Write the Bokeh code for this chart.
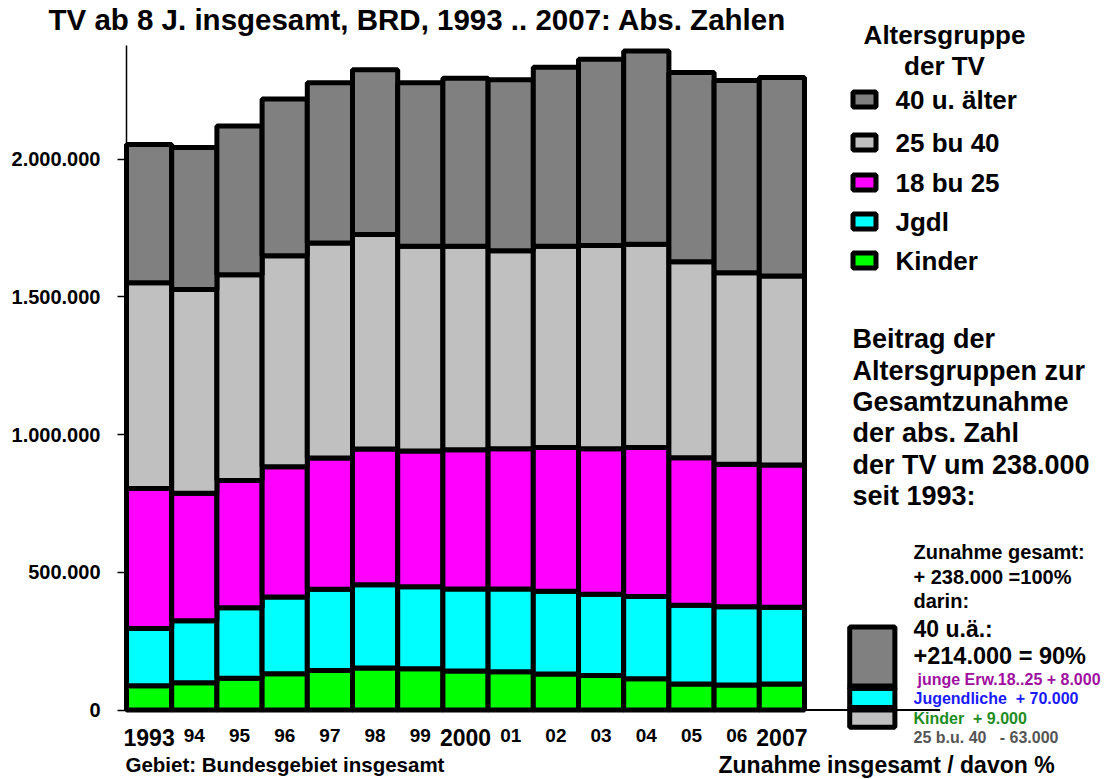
from bokeh.plotting import figure
from bokeh.models import Label, FixedTicker, ColumnDataSource, LinearAxis
from bokeh.embed import file_html
from bokeh.resources import INLINE

# ---------------- data ----------------
years = ["1993", "94", "95", "96", "97", "98", "99", "2000",
         "01", "02", "03", "04", "05", "06", "2007"]
big_years = ["1993", "2000", "2007"]

kinder   = [88000, 99000, 115000, 132000, 143000, 152000, 150000, 142000,
            139000, 131000, 125000, 113000, 94000, 91000, 94000]
jgdl     = [208000, 225000, 256000, 278000, 295000, 303000, 297000, 297000,
            300000, 300000, 295000, 299000, 286000, 284000, 279000]
erw18_25 = [508000, 463000, 462000, 473000, 477000, 492000, 493000, 506000,
            509000, 522000, 528000, 541000, 536000, 517000, 516000]
a25_40   = [747000, 739000, 747000, 766000, 780000, 779000, 743000, 738000,
            719000, 730000, 738000, 738000, 711000, 695000, 686000]
a40plus  = [502000, 516000, 540000, 569000, 582000, 598000, 594000, 610000,
            621000, 650000, 676000, 701000, 687000, 698000, 721000]

# Zunahme 1993..2007 (Beitrag der Altersgruppen)
zun_kinder = 9000
zun_jgdl = 70000
zun_erw = 8000
zun_40 = 214000
zun_25_40 = -63000

stack_names = ["kinder", "jgdl", "erw18_25", "a25_40", "a40plus"]
colors = ["#00ff00", "#00ffff", "#ff00ff", "#c0c0c0", "#808080"]
legend_labels = ["40 u. älter", "25 bu 40", "18 bu 25", "Jgdl", "Kinder"]
legend_colors = ["#808080", "#c0c0c0", "#ff00ff", "#00ffff", "#00ff00"]

y_ticks = [0, 500000, 1000000, 1500000, 2000000]
y_tick_labels = ["0", "500.000", "1.000.000", "1.500.000", "2.000.000"]

# ---------------- layout helpers (picture pixels -> data) ----------------
X0_PX = 126.0       # picture x of data x = 0
PX_X = 45.2         # pixels per bar
Y0_PX = 709.5       # picture y of value 0
PX_Y = 0.0002755    # pixels per unit value
W, H = 1106, 779


def px2x(px):
    return (px - X0_PX) / PX_X


def py2y(py):
    return (Y0_PX - py) / PX_Y


FONT = "Liberation Sans"

p = figure(width=W, height=H, output_backend="svg", toolbar_location=None,
           x_range=(px2x(0), px2x(W)), y_range=(py2y(H), py2y(0)),
           x_axis_location=None, y_axis_location=None,
           min_border_left=0, min_border_right=0, min_border_top=0,
           min_border_bottom=0)
p.outline_line_color = None
p.grid.visible = False
p.background_fill_color = "white"

ax = LinearAxis(fixed_location=0)
ax.ticker = FixedTicker(ticks=y_ticks, minor_ticks=[])
ax.major_label_overrides = dict(zip(y_ticks, y_tick_labels))
ax.bounds = (0, py2y(45))
ax.axis_line_width = 1.5
ax.axis_line_color = "black"
ax.major_tick_line_width = 1.5
ax.major_tick_out = 9
ax.major_tick_in = 0
ax.minor_tick_out = 0
ax.minor_tick_in = 0
ax.major_label_standoff = 17
ax.major_label_text_font = FONT
ax.major_label_text_font_style = "bold"
ax.major_label_text_font_size = "20px"
ax.major_label_text_color = "black"
p.add_layout(ax, "left")

# baseline
p.segment(x0=[0], y0=[0], x1=[18], y1=[0], line_color="black", line_width=2)

# main stacked bars
src = ColumnDataSource(dict(x=[i + 0.5 for i in range(len(years))],
                            kinder=kinder, jgdl=jgdl, erw18_25=erw18_25,
                            a25_40=a25_40, a40plus=a40plus))
p.vbar_stack(stack_names, x="x", width=1.0, source=src, fill_color=colors,
             line_color="black", line_width=5)

# summary bar (Zunahme)
src2 = ColumnDataSource(dict(x=[len(years) + 1.5], kinder=[zun_kinder],
                             jgdl=[zun_jgdl], erw18_25=[zun_erw],
                             a40plus=[zun_40]))
p.vbar_stack(["kinder", "jgdl", "erw18_25", "a40plus"], x="x", width=1.0,
             source=src2,
             fill_color=["#00ff00", "#00ffff", "#ff00ff", "#808080"],
             line_color="black", line_width=5)
p.vbar(x=[len(years) + 1.5], bottom=[0], top=[zun_25_40], width=1.0,
       fill_color="#c0c0c0", line_color="black", line_width=5)

# legend boxes
leg_centers = [99, 142, 182, 221, 260]
p.rect(x=[px2x(864)] * 5, y=[py2y(c) for c in leg_centers], width=23,
       height=15, width_units="screen", height_units="screen",
       fill_color=legend_colors, line_color="black", line_width=5)


def lab(text, px, py, size, color="black", align="left"):
    # py is the vertical middle of the capital letters
    p.add_layout(Label(x=px2x(px), y=py2y(py), text=text, text_font=FONT,
                       text_font_style="bold", text_font_size=f"{size}px",
                       text_color=color, text_align=align,
                       text_baseline="middle"))


for c, t in zip(leg_centers, legend_labels):
    lab(t, 895, c, 26)

lab("Altersgruppe", 944, 34, 26, align="center")
lab("der TV", 944, 65, 26, align="center")

# title
lab("TV ab 8 J. insgesamt, BRD, 1993 .. 2007: Abs. Zahlen", 48, 19, 29.5)

# x tick labels
for i, t in enumerate(years):
    big = t in big_years
    p.add_layout(Label(x=i + 0.5, y=py2y(736.5 if big else 735), text=t,
                       text_font=FONT, text_font_style="bold",
                       text_font_size="23px" if big else "19px",
                       text_color="black", text_align="center",
                       text_baseline="middle"))

lab("Gebiet: Bundesgebiet insgesamt", 125, 763.5, 20.5)
lab("Zunahme insgesamt / davon %", 718, 764, 23)

# explanation block
block = ["Beitrag der", "Altersgruppen zur", "Gesamtzunahme",
         "der abs. Zahl", "der TV um 238.000", "seit 1993:"]
for k, t in enumerate(block):
    lab(t, 852, 338.7 + k * 31.4, 27)

lab("Zunahme gesamt:", 913, 551, 20)
lab("+ 238.000 =100%", 913, 576, 20)
lab("darin:", 913, 600, 20)
lab("40 u.ä.:", 913, 628, 23)
lab("+214.000 = 90%", 913, 655, 23.5)
lab("junge Erw.18..25 + 8.000", 917, 679, 16, color="#a010a0")
lab("Jugendliche\u00a0 + 70.000", 913, 697.5, 16, color="#1a1aff")
lab("Kinder\u00a0 + 9.000", 913, 717.5, 16, color="#1e8c1e")
lab("25 b.u. 40\u00a0\u00a0 - 63.000", 913, 737, 16, color="#555555")

open("out.html", "w").write(file_html(p, INLINE))
